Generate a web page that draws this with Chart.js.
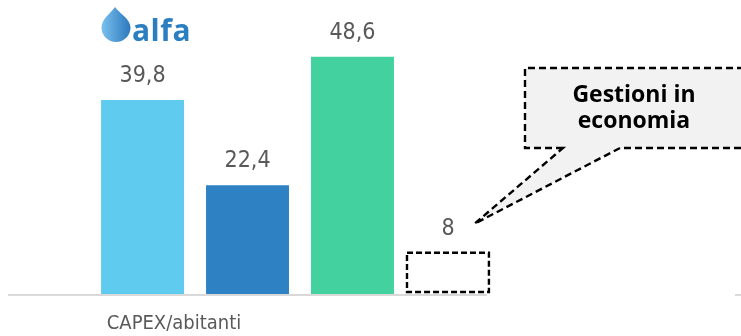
<!DOCTYPE html>
<html>
<head>
<meta charset="utf-8">
<script src="https://cdn.jsdelivr.net/npm/chart.js@4.4.1/dist/chart.umd.min.js"></script>
<style>
  html, body { margin: 0; padding: 0; background: #fff; overflow: hidden; }
</style>
</head>
<body>
<canvas id="capexChart" width="741" height="336"></canvas>
<script>
// ## CAPEX PER ABITANTE ##

const categories = ["CAPEX/abitanti"];
const seriesNames = ["Alfa", "Serie 2", "Serie 3", "Gestioni in economia"];
const seriesValues = [39.8, 22.4, 48.6, 8];
const calloutLines = ["Gestioni in", "economia"];
const logoText = "alfa";

const barColors = ["#5ecbef", "#2e82c4", "#43d1a0", "rgba(0,0,0,0)"];
const labelGray = "#595959";

function formatValue(v) {
  return String(v).replace(".", ",");
}

const decorPlugin = {
  id: "decor",
  afterDatasetsDraw(chart) {
    const ctx = chart.ctx;
    const area = chart.chartArea;
    const metas = chart.getSortedVisibleDatasetMetas();
    const last = metas[metas.length - 1].data[0];
    const half = last.width / 2;
    const boxLeft = last.x - half - 9;
    const boxRight = boxLeft + last.width - 1;
    const boxTop = last.y - 3;

    // dashed outline for the last bar
    ctx.save();
    ctx.setLineDash([6, 3]);
    ctx.lineWidth = 2.4;
    ctx.strokeStyle = "#000";
    ctx.strokeRect(boxLeft, boxTop, boxRight - boxLeft, last.base - last.y);
    ctx.restore();

    // baseline
    ctx.save();
    ctx.strokeStyle = "#d9d9d9";
    ctx.lineWidth = 2;
    ctx.beginPath();
    ctx.moveTo(area.left, area.bottom);
    ctx.lineTo(boxRight - 2, area.bottom);
    ctx.moveTo(chart.width - 6, area.bottom);
    ctx.lineTo(chart.width, area.bottom);
    ctx.stroke();
    ctx.restore();

    // value labels
    ctx.save();
    ctx.font = "23px 'DejaVu Sans Condensed', 'DejaVu Sans'";
    ctx.fillStyle = labelGray;
    ctx.textAlign = "center";
    ctx.textBaseline = "alphabetic";
    metas.forEach((meta, i) => {
      const bar = meta.data[0];
      const v = chart.data.datasets[meta.index].data[0];
      const isLast = i === metas.length - 1;
      const x = isLast ? (boxLeft + boxRight) / 2 : bar.x;
      const top = isLast ? boxTop : bar.y;
      ctx.fillText(formatValue(v), x, top - 18);
    });
    ctx.restore();
  },
  afterDraw(chart) {
    const ctx = chart.ctx;
    const metas = chart.getSortedVisibleDatasetMetas();
    const last = metas[metas.length - 1].data[0];

    // callout
    const bx = 525, by = 68, bw = 240, bh = 80;
    const tipX = last.x + 17, tipY = last.y - 32;
    ctx.save();
    ctx.beginPath();
    ctx.moveTo(563, by + bh);
    ctx.lineTo(bx, by + bh);
    ctx.lineTo(bx, by);
    ctx.lineTo(bx + bw, by);
    ctx.lineTo(bx + bw, by + bh);
    ctx.lineTo(620, by + bh);
    ctx.lineTo(tipX, tipY);
    ctx.closePath();
    ctx.fillStyle = "#f2f2f2";
    ctx.fill();
    ctx.setLineDash([7, 4]);
    ctx.lineWidth = 2.4;
    ctx.strokeStyle = "#000";
    ctx.stroke();
    ctx.setLineDash([]);
    ctx.fillStyle = "#000";
    ctx.font = "bold 23px 'Open Sans'";
    ctx.textAlign = "center";
    ctx.textBaseline = "alphabetic";
    ctx.fillText(calloutLines[0], 634, 102);
    ctx.fillText(calloutLines[1], 634, 128);
    ctx.restore();

    // logo
    ctx.save();
    const grad = ctx.createLinearGradient(101, 0, 131, 0);
    grad.addColorStop(0, "#7cc2ee");
    grad.addColorStop(1, "#2a78bd");
    ctx.fillStyle = grad;
    ctx.beginPath();
    ctx.moveTo(115, 7);
    ctx.bezierCurveTo(119, 13, 130.5, 19, 130.5, 27.5);
    ctx.arc(116, 27.5, 14.5, 0, Math.PI, false);
    ctx.bezierCurveTo(101.5, 19, 111, 13, 115, 7);
    ctx.fill();
    ctx.fillStyle = "#2b7fc1";
    ctx.font = "bold 30px 'Open Sans'";
    ctx.letterSpacing = "0.5px";
    ctx.textAlign = "left";
    ctx.textBaseline = "alphabetic";
    ctx.fillText(logoText, 132, 41);
    ctx.restore();
  },
};

const ctx = document.getElementById("capexChart").getContext("2d");
window.capexChart = new Chart(ctx, {
  type: "bar",
  data: {
    labels: categories,
    datasets: seriesValues.map((v, i) => ({
      label: seriesNames[i],
      data: [v],
      backgroundColor: barColors[i],
      borderWidth: 0,
      categoryPercentage: 0.719,
      barPercentage: 0.79,
    })),
  },
  options: {
    responsive: false,
    animation: false,
    layout: {
      padding: { left: 8, right: 149, top: 1, bottom: 0 },
    },
    plugins: {
      legend: { display: false },
      tooltip: { enabled: false },
    },
    scales: {
      y: {
        display: false,
        min: 0,
        max: 60,
      },
      x: {
        grid: {
          display: true,
          drawOnChartArea: false,
          drawTicks: true,
          tickLength: 17,
          color: "rgba(0,0,0,0)",
        },
        border: { display: false },
        ticks: {
          color: labelGray,
          padding: 0,
          labelOffset: -126,
          font: { family: "'DejaVu Sans Condensed', 'DejaVu Sans'", size: 20 },
        },
      },
    },
  },
  plugins: [decorPlugin],
});
</script>
</body>
</html>
